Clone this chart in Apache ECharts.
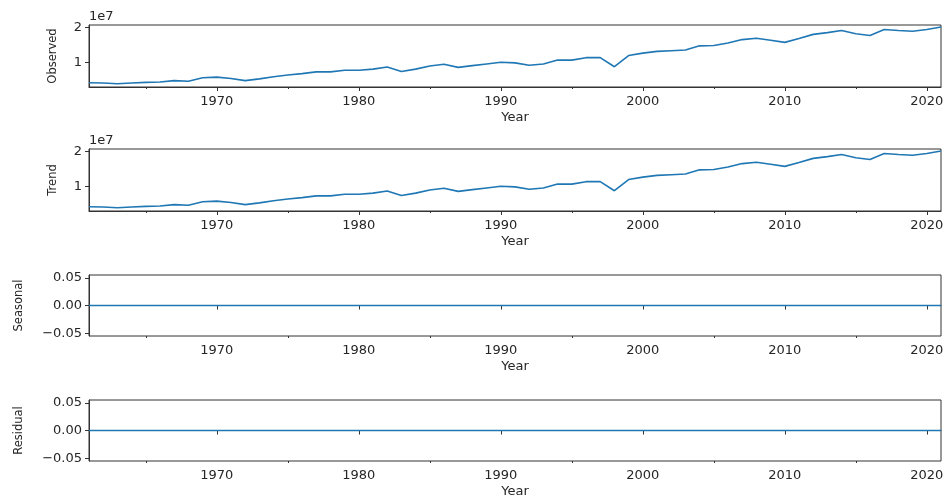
<!DOCTYPE html>
<html>
<head>
<meta charset="utf-8">
<script src="https://cdn.jsdelivr.net/npm/echarts@6/dist/echarts.min.js"></script>
<style>
  html, body { margin: 0; padding: 0; background: #fff; }
  #chart { width: 944px; height: 498px; }
</style>
</head>
<body>
<div id="chart"></div>
<script>
// 年份
const years = [
  1961, 1962, 1963, 1964, 1965, 1966, 1967, 1968, 1969, 1970,
  1971, 1972, 1973, 1974, 1975, 1976, 1977, 1978, 1979, 1980,
  1981, 1982, 1983, 1984, 1985, 1986, 1987, 1988, 1989, 1990,
  1991, 1992, 1993, 1994, 1995, 1996, 1997, 1998, 1999, 2000,
  2001, 2002, 2003, 2004, 2005, 2006, 2007, 2008, 2009, 2010,
  2011, 2012, 2013, 2014, 2015, 2016, 2017, 2018, 2019, 2020,
  2021
]

const observed = [
  4100000, 4000000, 3800000, 4000000, 4200000, 4300000, 4700000, 4500000, 5500000, 5700000,
  5300000, 4700000, 5200000, 5800000, 6300000, 6700000, 7200000, 7200000, 7700000, 7700000,
  8000000, 8600000, 7300000, 8000000, 8900000, 9400000, 8500000, 9000000, 9500000, 10000000,
  9800000, 9100000, 9500000, 10600000, 10600000, 11300000, 11300000, 8700000, 11900000, 12600000,
  13100000, 13300000, 13500000, 14700000, 14800000, 15500000, 16500000, 16900000, 16300000, 15700000,
  16800000, 18000000, 18500000, 19100000, 18200000, 17700000, 19400000, 19100000, 18900000, 19400000,
  20100000
]

// 趋势（与观测值相同）
const trend = [
  4100000, 4000000, 3800000, 4000000, 4200000, 4300000, 4700000, 4500000, 5500000, 5700000,
  5300000, 4700000, 5200000, 5800000, 6300000, 6700000, 7200000, 7200000, 7700000, 7700000,
  8000000, 8600000, 7300000, 8000000, 8900000, 9400000, 8500000, 9000000, 9500000, 10000000,
  9800000, 9100000, 9500000, 10600000, 10600000, 11300000, 11300000, 8700000, 11900000, 12600000,
  13100000, 13300000, 13500000, 14700000, 14800000, 15500000, 16500000, 16900000, 16300000, 15700000,
  16800000, 18000000, 18500000, 19100000, 18200000, 17700000, 19400000, 19100000, 18900000, 19400000,
  20100000
]

const seasonal = [
  0, 0, 0, 0, 0, 0, 0, 0, 0, 0,
  0, 0, 0, 0, 0, 0, 0, 0, 0, 0,
  0, 0, 0, 0, 0, 0, 0, 0, 0, 0,
  0, 0, 0, 0, 0, 0, 0, 0, 0, 0,
  0, 0, 0, 0, 0, 0, 0, 0, 0, 0,
  0, 0, 0, 0, 0, 0, 0, 0, 0, 0,
  0
]

const residual = [
  0, 0, 0, 0, 0, 0, 0, 0, 0, 0,
  0, 0, 0, 0, 0, 0, 0, 0, 0, 0,
  0, 0, 0, 0, 0, 0, 0, 0, 0, 0,
  0, 0, 0, 0, 0, 0, 0, 0, 0, 0,
  0, 0, 0, 0, 0, 0, 0, 0, 0, 0,
  0, 0, 0, 0, 0, 0, 0, 0, 0, 0,
  0
]

// 刻度
const majorYears = [1970, 1980, 1990, 2000, 2010, 2020]
const minorYears = [1965, 1975, 1985, 1995, 2005, 2015]
const bigTicks = [10000000, 20000000]
const smallTicks = [-0.05, 0, 0.05]

const panelNames = ['Observed', 'Trend', 'Seasonal', 'Residual']
const panelData = [observed, trend, seasonal, residual]

const FONT = 'DejaVu Sans'
const TXT = '#262626'
const LINE = '#1f77b4'
const tops = [25, 149, 275, 400]
const heights = [62, 62, 61, 61]

const chart = echarts.init(document.getElementById('chart'), null, { renderer: 'canvas' })

// 小数刻度标签，负号用 U+2212
function fmtSmall(v) {
  const n = Number(v)
  const s = Math.abs(n).toFixed(2)
  return n < -1e-9 ? '\u2212' + s : s
}

const grids = [], xAxes = [], yAxes = [], series = []
panelNames.forEach((name, i) => {
  grids.push({
    left: 89, width: 852, top: tops[i], height: heights[i],
    show: true, borderColor: '#333', borderWidth: 1,
    containLabel: false, outerBoundsMode: 'none'
  })
  // 主刻度 + 标签
  xAxes.push({
    type: 'value', gridIndex: i, min: 1961, max: 2021,
    name: 'Year', nameLocation: 'middle', nameGap: 24,
    nameTextStyle: { fontFamily: FONT, fontSize: 13, color: TXT },
    axisLine: { show: true, lineStyle: { color: '#333' } },
    axisTick: { show: true, length: 4, customValues: majorYears, lineStyle: { color: '#333' } },
    axisLabel: {
      customValues: majorYears, margin: 8, fontFamily: FONT, fontSize: 13, color: TXT,
      formatter: v => String(Math.round(Number(v)))
    },
    splitLine: { show: false }
  })
  // 次刻度
  xAxes.push({
    type: 'value', gridIndex: i, min: 1961, max: 2021, position: 'bottom',
    axisLine: { show: false },
    axisTick: { show: true, length: 2, customValues: minorYears, lineStyle: { color: '#333' } },
    axisLabel: { show: false },
    splitLine: { show: false }
  })
  const big = i < 2
  yAxes.push({
    type: 'value', gridIndex: i,
    min: big ? 2860000 : -0.055,
    max: big ? 20700000 : 0.055,
    name, nameLocation: 'middle', nameRotate: 90,
    nameGap: big ? 30 : 64,
    nameTextStyle: { fontFamily: FONT, fontSize: 11.5, color: TXT },
    axisLine: { show: true, lineStyle: { color: '#333' } },
    axisTick: { show: true, length: 4, customValues: big ? bigTicks : smallTicks, lineStyle: { color: '#333' } },
    axisLabel: {
      customValues: big ? bigTicks : smallTicks,
      margin: 7, fontFamily: FONT, fontSize: 13, color: TXT,
      overflow: 'none',
      formatter: big ? (v => String(Math.round(Number(v) / 1e7))) : fmtSmall
    },
    splitLine: { show: false }
  })
  series.push({
    type: 'line', xAxisIndex: i * 2, yAxisIndex: i,
    data: years.map((y, k) => [y, panelData[i][k]]),
    showSymbol: false, silent: true,
    lineStyle: { color: LINE, width: 1.6 }
  })
})

chart.setOption({
  animation: false,
  grid: grids,
  xAxis: xAxes,
  yAxis: yAxes,
  series,
  graphic: [
    { type: 'text', left: 89, top: 10, style: { text: '1e7', fontFamily: FONT, fontSize: 13, fill: TXT } },
    { type: 'text', left: 89, top: 134, style: { text: '1e7', fontFamily: FONT, fontSize: 13, fill: TXT } }
  ]
})
</script>
</body>
</html>
